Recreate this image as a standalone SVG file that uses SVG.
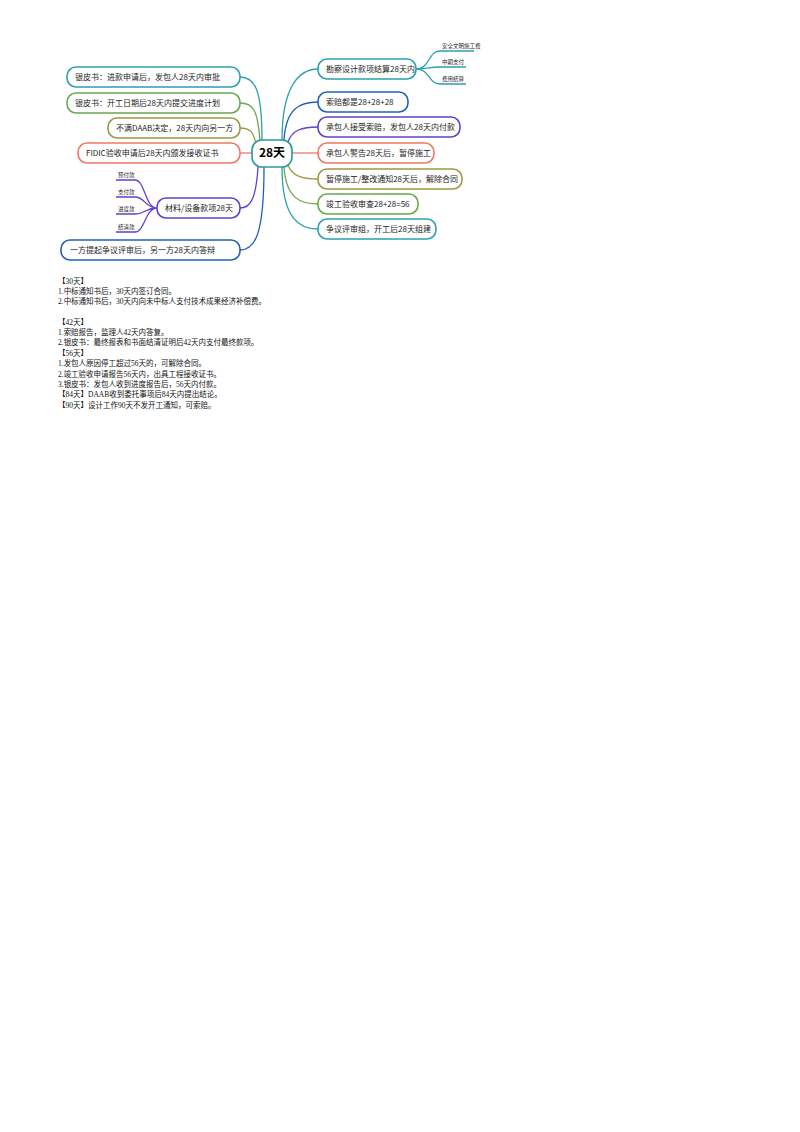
<svg xmlns="http://www.w3.org/2000/svg" width="800" height="1132" viewBox="0 0 800 1132">
<style>
.n{fill:#fff;stroke-width:1.6}
.t{font-family:"Noto Sans CJK SC","Liberation Sans",sans-serif;font-size:8px;fill:#222;dominant-baseline:middle}
.s{font-family:"Noto Sans CJK SC","Liberation Sans",sans-serif;font-size:5.5px;fill:#222}
.c{fill:none;stroke-width:1.3}
.b{font-family:"Liberation Serif","Noto Sans CJK SC",serif;font-size:7.5px;fill:#111}
</style>
<rect width="800" height="1132" fill="#fff"/>
<g id="connectors">
<path class="c" stroke="#2aa0b0" d="M262,140 C262,90 255,77 240,77"/>
<path class="c" stroke="#6aa84f" d="M260,142 C258,108 252,103 240,103"/>
<path class="c" stroke="#9a9a40" d="M256,145 C254,132 250,128 240,128"/>
<path class="c" stroke="#f07860" d="M252,153 L240,153"/>
<path class="c" stroke="#6040d0" d="M258,167 C256,200 250,208 240,208"/>
<path class="c" stroke="#2060c0" d="M264,167 C264,235 255,250 240,250"/>
<path class="c" stroke="#2aa0b0" d="M282,140 C282,85 300,69 318,69"/>
<path class="c" stroke="#2060c0" d="M284,140 C286,108 300,102 318,102"/>
<path class="c" stroke="#6040d0" d="M288,142 C292,130 302,127 318,127"/>
<path class="c" stroke="#f07860" d="M292,153 L318,153"/>
<path class="c" stroke="#9a9a40" d="M288,165 C292,176 302,179 318,179"/>
<path class="c" stroke="#6aa84f" d="M284,167 C286,198 300,204 318,204"/>
<path class="c" stroke="#2aa0b0" d="M282,167 C282,220 300,229 318,229"/>
<path class="c" stroke="#6040d0" d="M157,208 C145,208 145,180 135,180 L116,180 M157,208 C145,208 145,197 135,197 L116,197 M157,208 C145,208 145,214 135,214 L116,214 M157,208 C145,208 145,232 135,232 L116,232"/>
<path class="c" stroke="#2aa0b0" d="M416,69 C430,69 428,51 440,51 L474,51 M416,69 C430,69 428,67 440,67 L466,67 M416,69 C430,69 428,84 440,84 L466,84"/>
</g>
<g id="center"><rect class="n" stroke="#2a9a9a" x="252" y="140" width="40" height="27" rx="10"/><text x="272" y="154" text-anchor="middle" style="font-family:'Noto Sans CJK SC',sans-serif;font-size:12px;font-weight:bold;dominant-baseline:middle">28天</text></g>
<g id="l1"><rect class="n" stroke="#2aa0b0" x="67" y="67" width="173" height="20" rx="9"/><text class="t" x="75" y="77.5">银皮书：进款申请后，发包人28天内审批</text></g>
<g id="l2"><rect class="n" stroke="#6aa84f" x="67" y="93" width="173" height="20" rx="9"/><text class="t" x="75" y="103.5">银皮书：开工日期后28天内提交进度计划</text></g>
<g id="l3"><rect class="n" stroke="#9a9a40" x="108" y="118" width="132" height="20" rx="9"/><text class="t" x="116" y="128.5">不满DAAB决定，28天内向另一方</text></g>
<g id="l4"><rect class="n" stroke="#f07860" x="78" y="143" width="162" height="20" rx="9"/><text class="t" x="86" y="153.5">FIDIC验收申请后28天内颁发接收证书</text></g>
<g id="l5"><rect class="n" stroke="#6040d0" x="157" y="198" width="83" height="20" rx="9"/><text class="t" x="165" y="208.5">材料/设备款项28天</text>
<text class="s" x="118" y="177">预付款</text><text class="s" x="118" y="194">支付款</text><text class="s" x="118" y="211">进度款</text><text class="s" x="118" y="229">结清款</text></g>
<g id="l6"><rect class="n" stroke="#2060c0" x="61" y="240" width="179" height="20" rx="9"/><text class="t" x="70" y="250.5">一方提起争议评审后，另一方28天内答辩</text></g>
<g id="r1"><rect class="n" stroke="#2aa0b0" x="318" y="59" width="98" height="20" rx="9"/><text class="t" x="326" y="69.5">勘察设计款项结算28天内</text>
<text class="s" x="442" y="48">安全文明施工费</text><text class="s" x="442" y="64">中期支付</text><text class="s" x="442" y="81">费用结算</text></g>
<g id="r2"><rect class="n" stroke="#2060c0" x="318" y="92" width="90" height="20" rx="9"/><text class="t" x="326" y="102.5">索赔都是28+28+28</text></g>
<g id="r3"><rect class="n" stroke="#6040d0" x="318" y="117" width="142" height="20" rx="9"/><text class="t" x="326" y="127.5">承包人接受索赔，发包人28天内付款</text></g>
<g id="r4"><rect class="n" stroke="#f07860" x="318" y="143" width="116" height="20" rx="9"/><text class="t" x="326" y="153.5">承包人警告28天后，暂停施工</text></g>
<g id="r5"><rect class="n" stroke="#9a9a40" x="318" y="169" width="144" height="20" rx="9"/><text class="t" x="326" y="179.5">暂停施工/整改通知28天后，解除合同</text></g>
<g id="r6"><rect class="n" stroke="#6aa84f" x="318" y="194" width="100" height="20" rx="9"/><text class="t" x="326" y="204.5">竣工验收审查28+28=56</text></g>
<g id="r7"><rect class="n" stroke="#2aa0b0" x="318" y="219" width="118" height="20" rx="9"/><text class="t" x="326" y="229.5">争议评审组，开工后28天组建</text></g>
<g id="notes">
<text class="b" x="58" y="284">【30天】</text>
<text class="b" x="58" y="294">1.中标通知书后，30天内签订合同。</text>
<text class="b" x="58" y="304">2.中标通知书后，30天内向未中标人支付技术成果经济补偿费。</text>
<text class="b" x="58" y="325">【42天】</text>
<text class="b" x="58" y="335">1.索赔报告，监理人42天内答复。</text>
<text class="b" x="58" y="345">2.银皮书：最终报表和书面结清证明后42天内支付最终款项。</text>
<text class="b" x="58" y="356">【56天】</text>
<text class="b" x="58" y="366">1.发包人原因停工超过56天的，可解除合同。</text>
<text class="b" x="58" y="377">2.竣工验收申请报告56天内，出具工程接收证书。</text>
<text class="b" x="58" y="387">3.银皮书：发包人收到进度报告后，56天内付款。</text>
<text class="b" x="58" y="397">【84天】DAAB收到委托事项后84天内提出结论。</text>
<text class="b" x="58" y="408">【90天】设计工作90天不发开工通知，可索赔。</text>
</g>
</svg>
